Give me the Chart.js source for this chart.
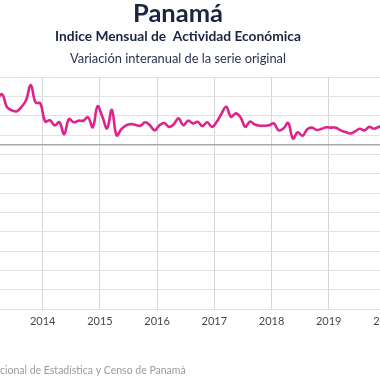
<!DOCTYPE html>
<html><head><meta charset="utf-8">
<script src="https://cdn.jsdelivr.net/npm/chart.js@4.4.1/dist/chart.umd.min.js"></script>
<style>html,body{margin:0;padding:0;background:#fff}#wrap{width:380px;height:380px;position:relative}</style>
</head><body><div id="wrap"><canvas id="c" width="380" height="380"></canvas></div>
<script>
// ---- DATA ----
const startYear = 2013, startMonth = 3; // first category = March 2013
const values = [
  12.0, 13.0, 9.7, 8.9, 8.6, 9.7, 11.5, 15.4, 10.9, 10.7,
  6.0, 6.3, 5.0, 5.8, 2.7, 6.6, 5.8, 6.2, 6.2, 7.1, 4.5, 9.9,
  7.3, 4.2, 9.0, 2.4, 4.0, 5.0, 5.3, 5.1, 4.9, 5.8, 5.0, 3.7,
  5.0, 5.6, 4.6, 5.3, 6.8, 5.0, 6.2, 5.5, 5.9, 4.8, 5.8, 4.6,
  5.9, 8.0, 9.8, 7.2, 8.1, 7.1, 4.6, 6.0, 5.2, 4.9, 4.9, 5.0,
  5.5, 3.7, 4.2, 5.6, 1.6, 3.2, 2.3, 4.0, 4.4, 3.8, 4.1, 4.5,
  4.4, 4.4, 3.7, 3.3, 2.9, 3.4, 4.1, 3.7, 4.6, 4.1, 4.6, 4.7
];
const months = values.map((v, i) => {
  const t = (startMonth - 1) + i;
  return (startYear + Math.floor(t / 12)) + '-' + String(t % 12 + 1).padStart(2, '0');
});
const yearLabels = ['2014', '2015', '2016', '2017', '2018', '2019', '2020'];
const yTicks = [-42.5, -37.5, -32.5, -27.5, -22.5, -17.5, -12.5, -7.5, -2.5, 0, 2.5, 7.5, 12.5, 17.5];
const titleText = 'Panamá';
const subtitleText = 'Indice Mensual de  Actividad Económica';
const subtitle2Text = 'Variación interanual de la serie original';
const sourceText = 'cional de Estadística y Censo de Panamá';

// months since Jan 2014, plotted mid-month
const baseYear = 2014;
const points = months.map((m, i) => {
  const [y, mo] = m.split('-').map(Number);
  return { x: (y - baseYear) * 12 + (mo - 1) + 0.5, y: values[i] };
});
const yearTickValues = yearLabels.map(l => (Number(l) - baseYear) * 12);

function fitText(ctx, text, weight, family, width, cx, cy) {
  ctx.font = weight + ' 20px ' + family;
  const w = ctx.measureText(text).width;
  const size = 20 * width / w;
  ctx.font = weight + ' ' + size.toFixed(2) + 'px ' + family;
  ctx.fillText(text, cx, cy);
}

const textPlugin = {
  id: 'texts',
  afterDraw(chart) {
    const ctx = chart.ctx;
    ctx.save();
    ctx.textAlign = 'center';
    ctx.textBaseline = 'middle';
    ctx.fillStyle = '#1b2440';
    fitText(ctx, titleText, 'bold', '"Lato", sans-serif', 90, 178, 14);
    fitText(ctx, subtitleText, 'bold', '"Lato", sans-serif', 246, 178, 37);
    ctx.fillStyle = '#2b3350';
    fitText(ctx, subtitle2Text, 'normal', '"Lato", sans-serif', 216, 178, 59);
    ctx.textAlign = 'left';
    ctx.fillStyle = '#9a9a9a';
    ctx.font = '10.5px "Lato", sans-serif';
    ctx.fillText(sourceText, 0, 371);
    ctx.restore();
  }
};

new Chart(document.getElementById('c'), {
  type: 'line',
  data: {
    datasets: [{
      data: points,
      borderColor: '#e0228c',
      borderWidth: 2.6,
      pointRadius: 0,
      tension: 0.4,
      fill: false
    }]
  },
  options: {
    responsive: false,
    animation: false,
    devicePixelRatio: 1,
    layout: { padding: { top: 77, left: 0, right: 0, bottom: 0 } },
    plugins: { legend: { display: false }, tooltip: { enabled: false } },
    scales: {
      x: {
        type: 'linear',
        min: -8.96,
        max: 70.76,
        afterBuildTicks(s) { s.ticks = yearTickValues.map(v => ({ value: v })); },
        afterFit(s) { s.height = 71; s.paddingLeft = 0; s.paddingRight = 0; },
        ticks: {
          autoSkip: false, maxRotation: 0, padding: 6,
          color: '#484848',
          font: { family: 'Lato', size: 11 },
          callback(v) { return String(baseYear + v / 12); }
        },
        grid: { color: '#d6d6d6', lineWidth: 1, drawTicks: false },
        border: { display: false }
      },
      y: {
        min: -42.5,
        max: 17.5,
        afterBuildTicks(s) { s.ticks = yTicks.map(v => ({ value: v })); },
        afterFit(s) { s.width = 0; s.paddingTop = 0; s.paddingBottom = 0; },
        ticks: { display: false },
        grid: {
          drawTicks: false,
          color: c => c.tick && c.tick.value === 0 ? '#a8a8a8' : '#e2e2e2',
          lineWidth: c => c.tick && c.tick.value === 0 ? 1.5 : 1
        },
        border: { display: false }
      }
    }
  },
  plugins: [textPlugin]
});
</script>
</body></html>
